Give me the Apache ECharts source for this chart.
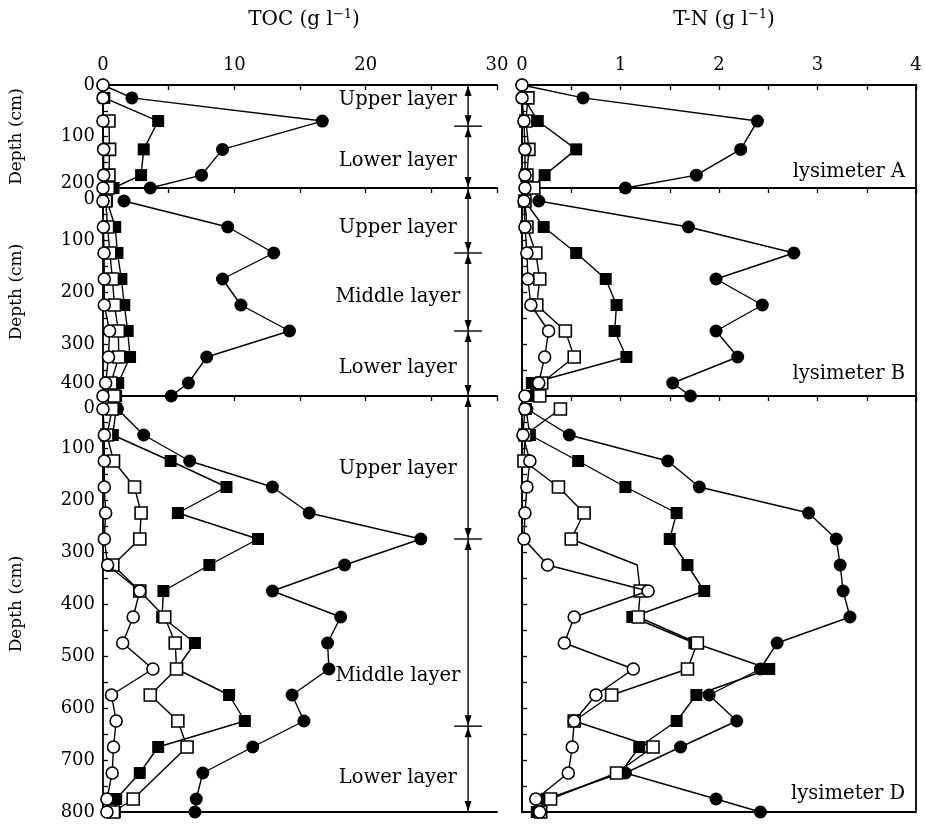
<!DOCTYPE html>
<html>
<head>
<meta charset="utf-8">
<script src="https://cdn.jsdelivr.net/npm/echarts@6/dist/echarts.min.js"></script>
<style>
  html, body { margin: 0; padding: 0; background: #fff; }
  #chart { width: 925px; height: 824px; }
</style>
</head>
<body>
<div id="chart"></div>
<script>
// Sampling depths (cm) of each lysimeter
const depthA = [0, 25, 70, 125, 175, 200];
const depthB = [25, 75, 125, 175, 225, 275, 325, 375, 400];
const depthD = [25, 75, 125, 175, 225, 275, 325, 375, 425, 475, 525, 575, 625, 675, 725, 775, 800];

// TOC (g/l), lysimeter A
const tocA_dot    = [0, 2.2, 16.7, 9.1, 7.5, 3.6];
const tocA_sq     = [null, 0.1, 4.2, 3.1, 2.9, 0.8];
const tocA_openSq = [null, null, 0.45, 0.5, 0.45, 0.4];
const tocA_ring   = [0, 0, 0, 0.05, 0.05, 0];
// T-N (g/l), lysimeter A
const tnA_dot     = [0, 0.62, 2.39, 2.22, 1.77, 1.05];
const tnA_sq      = [null, 0.02, 0.16, 0.55, 0.23, 0.10];
const tnA_openSq  = [null, 0.06, 0.04, 0.07, 0.05, 0.12];
const tnA_ring    = [0, 0, 0.02, 0.03, 0.03, 0.03];

// TOC, lysimeter B
const tocB_dot    = [1.6, 9.5, 13.0, 9.1, 10.5, 14.2, 7.9, 6.5, 5.2];
const tocB_sq     = [0.3, 0.93, 1.1, 1.4, 1.62, 1.88, 2.06, 1.16, 1.0];
const tocB_openSq = [0.2, 0.35, 0.52, 0.72, 0.87, 1.17, 1.2, 0.6, 0.85];
const tocB_ring   = [0, 0.03, 0.08, 0.1, 0.1, 0.5, 0.42, 0.2, 0];
// T-N, lysimeter B
const tnB_dot     = [0.17, 1.69, 2.76, 1.97, 2.44, 1.97, 2.19, 1.53, 1.71];
const tnB_sq      = [0.03, 0.22, 0.55, 0.85, 0.96, 0.94, 1.06, 0.10, 0.08];
const tnB_openSq  = [0.03, 0.05, 0.14, 0.18, 0.15, 0.44, 0.53, 0.20, 0.18];
const tnB_ring    = [0.02, 0.03, 0.05, 0.06, 0.09, 0.27, 0.23, 0.17, 0.03];

// TOC, lysimeter D
const tocD_dot    = [1.1, 3.1, 6.6, 12.9, 15.7, 24.2, 18.4, 12.9, 18.1, 17.1, 17.2, 14.4, 15.3, 11.4, 7.6, 7.1, 7.0];
const tocD_sq     = [1.0, 0.75, 5.15, 9.4, 5.7, 11.8, 8.1, 4.6, 4.5, 7.0, 5.6, 9.6, 10.8, 4.2, 2.8, 1.0, 0.9];
const tocD_openSq = [0.7, 0.3, 0.8, 2.4, 2.9, 2.8, 0.75, 2.8, 4.7, 5.5, 5.6, 3.6, 5.7, 6.4, null, 2.3, 0.8];
const tocD_ring   = [0, 0.1, 0.1, 0.1, 0.2, 0.1, 0.35, 2.8, 2.3, 1.5, 3.8, 0.65, 1.0, 0.8, 0.7, 0.3, 0.3];
// T-N, lysimeter D
const tnD_dot     = [0.05, 0.48, 1.48, 1.80, 2.91, 3.19, 3.23, 3.26, 3.33, 2.59, 2.42, 1.90, 2.18, 1.61, 1.05, 1.97, 2.42];
const tnD_sq      = [0.04, 0.08, 0.57, 1.05, 1.57, 1.50, 1.68, 1.85, 1.12, 1.75, 2.51, 1.77, 1.57, 1.19, 1.00, 0.25, 0.15];
const tnD_openSq  = [0.39, 0.03, 0.02, 0.37, 0.63, 0.50, 1.17, 1.20, 1.18, 1.78, 1.68, 0.91, 0.53, 1.33, 0.96, 0.29, 0.19];
const tnD_ring    = [0.03, 0.01, 0.08, 0.05, 0.03, 0.02, 0.26, 1.28, 0.53, 0.43, 1.13, 0.75, 0.53, 0.51, 0.47, 0.14, 0.18];

// Tick labels
const tocTicks = [0, 10, 20, 30];
const tnTicks = [0, 1, 2, 3, 4];
const depthTicksA = [0, 100, 200];
const depthTicksB = [0, 100, 200, 300, 400];
const depthTicksD = [0, 100, 200, 300, 400, 500, 600, 700, 800];

// Soil layers: boundaries (cm) and names per lysimeter
const layerBoundsA = [0, 80, 200];
const layerBoundsB = [0, 125, 275, 400];
const layerBoundsD = [0, 275, 635, 800];
const layerNamesA = ['Upper layer', 'Lower layer'];
const layerNamesB = ['Upper layer', 'Middle layer', 'Lower layer'];
const layerNamesD = ['Upper layer', 'Middle layer', 'Lower layer'];
const lysimeterNames = ['lysimeter A', 'lysimeter B', 'lysimeter D'];

const FONT = '"DejaVu Serif", "Liberation Serif", serif';
const BLACK = '#000';

const panels = [
  { depth: depthA, max: 200, ticks: depthTicksA, toc: [tocA_dot, tocA_sq, tocA_openSq, tocA_ring], tn: [tnA_dot, tnA_sq, tnA_openSq, tnA_ring], top: 85, h: 103 },
  { depth: depthB, max: 400, ticks: depthTicksB, toc: [tocB_dot, tocB_sq, tocB_openSq, tocB_ring], tn: [tnB_dot, tnB_sq, tnB_openSq, tnB_ring], top: 188, h: 208 },
  { depth: depthD, max: 800, ticks: depthTicksD, toc: [tocD_dot, tocD_sq, tocD_openSq, tocD_ring], tn: [tnD_dot, tnD_sq, tnD_openSq, tnD_ring], top: 396, h: 416 }
];

// Marker kinds, drawn in this order (open markers end up on top)
const kinds = [
  { symbol: 'circle', size: 13, fill: BLACK },
  { symbol: 'rect', size: 12, fill: BLACK },
  { symbol: 'rect', size: 12, fill: '#fff' },
  { symbol: 'circle', size: 12, fill: '#fff' }
];

// the D open-square T-N profile has a bend without a marker at 325 cm
const unmarked = { '2-1-2': [6] };

// depth-label nudges at the ends of each depth axis
const labelNudge = [
  { 200: 'u5' },
  { 0: 'd11', 400: 'u13' },
  { 0: 'd12' }
];

const LEFT = { left: 103, width: 394 };
const RIGHT = { left: 522, width: 394 };
const FRAME_W = 1.8;

const grid = [], xAxis = [], yAxis = [], series = [];
const labelRich = (pad) => ({ fontFamily: FONT, fontSize: 18, color: BLACK, padding: pad });

panels.forEach((p, pi) => {
  [LEFT, RIGHT].forEach((side, si) => {
    const gi = pi * 2 + si;
    grid.push({
      left: side.left, width: side.width, top: p.top, height: p.h,
      show: si === 1, borderColor: BLACK, borderWidth: FRAME_W, backgroundColor: 'transparent'
    });
    const isToc = si === 0;
    const xmax = isToc ? 30 : 4;
    const tickStep = isToc ? 5 : 0.5;
    const tickVals = [];
    for (let v = 0; v <= xmax + 1e-9; v += tickStep) tickVals.push(+v.toFixed(2));
    xAxis.push({
      type: 'value', gridIndex: gi, position: 'top', min: 0, max: xmax,
      axisLine: { show: true, lineStyle: { color: BLACK, width: FRAME_W } },
      axisTick: { show: true, inside: true, length: 5, customValues: tickVals, lineStyle: { color: BLACK, width: 1.3 } },
      axisLabel: {
        show: pi === 0, customValues: isToc ? tocTicks : tnTicks,
        color: BLACK, fontFamily: FONT, fontSize: 18, margin: 11
      },
      splitLine: { show: false }
    });
    const dTicks = [];
    for (let d = 0; d <= p.max; d += 50) dTicks.push(d);
    const nudge = labelNudge[pi];
    yAxis.push({
      type: 'value', gridIndex: gi, inverse: true, min: 0, max: p.max,
      axisLine: { show: true, lineStyle: { color: BLACK, width: FRAME_W } },
      axisTick: { show: true, inside: true, length: 5, customValues: dTicks, lineStyle: { color: BLACK, width: 1.3 } },
      axisLabel: {
        show: isToc, customValues: p.ticks, color: BLACK, fontFamily: FONT, fontSize: 18, margin: 8,
        formatter: v => nudge[v] ? '{' + nudge[v] + '|' + v + '}' : String(v),
        rich: {
          u5:  labelRich([0, 0, 10, 0]),
          u13: labelRich([0, 0, 26, 0]),
          d11: labelRich([22, 0, 0, 0]),
          d12: labelRich([24, 0, 0, 0])
        }
      },
      splitLine: { show: false }
    });
    const sets = isToc ? p.toc : p.tn;
    sets.forEach((vals, ki) => {
      const k = kinds[ki];
      const skip = unmarked[pi + '-' + si + '-' + ki] || [];
      const data = [];
      p.depth.forEach((d, i) => {
        if (vals[i] == null) return;
        data.push(skip.includes(i) ? { value: [vals[i], d], symbol: 'none' } : [vals[i], d]);
      });
      series.push({
        type: 'line', xAxisIndex: gi, yAxisIndex: gi, data,
        symbol: k.symbol, symbolSize: k.size, showSymbol: true, clip: false,
        color: BLACK,
        lineStyle: { color: BLACK, width: 1.4 },
        itemStyle: { color: k.fill, borderColor: BLACK, borderWidth: k.fill === BLACK ? 0 : 1.6 },
        emphasis: { disabled: true },
        z: 2 + ki
      });
    });
  });
});

// bottom frame line of the TOC column
xAxis.push({
  type: 'value', gridIndex: 4, position: 'bottom', min: 0, max: 30,
  axisLine: { show: true, lineStyle: { color: BLACK, width: FRAME_W } },
  axisTick: { show: false }, axisLabel: { show: false }, splitLine: { show: false }
});

const chart = echarts.init(document.getElementById('chart'));
chart.setOption({
  animation: false,
  backgroundColor: '#fff',
  grid, xAxis, yAxis, series
});

// ---- annotations (layer arrows, texts, titles) ----
const px = (gi, x, d) => chart.convertToPixel({ xAxisIndex: gi, yAxisIndex: gi }, [x, d]);
const graphic = [];
const ARROW_X = 27.8;   // TOC position of the layer scale
const LABEL_X = 22.45;  // TOC position of the layer names
const textStyle = (extra) => Object.assign({ fill: BLACK, fontFamily: FONT, fontSize: 19.5 }, extra);
const supRich = { s: { fontFamily: FONT, fontSize: 13, fill: BLACK, padding: [0, 0, 11, 0] } };

// column titles
graphic.push({ type: 'text', x: 304, y: 20, style: textStyle({ text: 'TOC (g l{s|−1})', fontSize: 20, align: 'center', verticalAlign: 'middle', rich: supRich }) });
graphic.push({ type: 'text', x: 724, y: 20, style: textStyle({ text: 'T-N (g l{s|−1})', fontSize: 20, align: 'center', verticalAlign: 'middle', rich: supRich }) });

const bounds = [layerBoundsA, layerBoundsB, layerBoundsD];
const names = [layerNamesA, layerNamesB, layerNamesD];
const namePos = [[29, 148], [77, 210, 346], [140, 538, 734]];
const lysPos = [169, 358, 765];

// the vertical layer scale spanning all three lysimeters
const lineTop = px(0, ARROW_X, 0);
const lineBot = px(4, ARROW_X, 800);
graphic.push({ type: 'line', shape: { x1: lineTop[0], y1: lineTop[1], x2: lineBot[0], y2: lineBot[1] }, style: { stroke: BLACK, lineWidth: 1.4 } });

panels.forEach((p, pi) => {
  const gi = pi * 2;
  const b = bounds[pi];
  for (let i = 0; i < b.length - 1; i++) {
    const t = px(gi, ARROW_X, b[i]);
    const bt = px(gi, ARROW_X, b[i + 1]);
    const x = t[0];
    graphic.push({ type: 'polygon', shape: { points: [[x, t[1] + 1], [x - 3.5, t[1] + 11], [x + 3.5, t[1] + 11]] }, style: { fill: BLACK } });
    graphic.push({ type: 'polygon', shape: { points: [[x, bt[1] - 1], [x - 3.5, bt[1] - 11], [x + 3.5, bt[1] - 11]] }, style: { fill: BLACK } });
    if (i > 0) {
      graphic.push({ type: 'line', shape: { x1: x - 14, y1: t[1], x2: x + 14, y2: t[1] }, style: { stroke: BLACK, lineWidth: 1.4 } });
    }
    const np = px(gi, LABEL_X, namePos[pi][i]);
    graphic.push({ type: 'text', x: np[0], y: np[1], style: textStyle({ text: names[pi][i], align: 'center', verticalAlign: 'middle' }) });
  }
  const lp = px(gi + 1, 3.89, lysPos[pi]);
  graphic.push({ type: 'text', x: lp[0], y: lp[1], style: textStyle({ text: lysimeterNames[pi], align: 'right', verticalAlign: 'middle' }) });
  // depth axis name
  const c = px(gi, 0, p.max / 2);
  graphic.push({ type: 'text', x: 17, y: c[1], rotation: Math.PI / 2, style: textStyle({ text: 'Depth (cm)', fontSize: 17, align: 'center', verticalAlign: 'middle' }) });
});

chart.setOption({ graphic });
</script>
</body>
</html>
